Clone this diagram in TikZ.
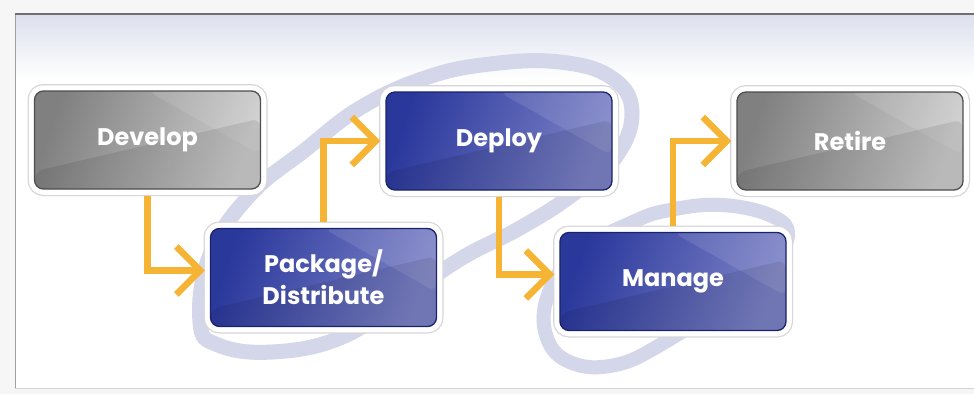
\documentclass[tikz,border=0pt]{standalone}
\usepackage{fontspec}
\setmainfont{Poppins}
\usetikzlibrary{arrows.meta,calc}

\definecolor{pagebg}{RGB}{246,246,246}
\definecolor{topband}{RGB}{221,224,238}
\definecolor{frametop}{RGB}{112,112,112}
\definecolor{frameside}{RGB}{160,160,160}
\definecolor{framebot}{RGB}{212,212,212}
\definecolor{ringcol}{RGB}{212,214,234}
\definecolor{flowcol}{RGB}{246,180,52}
\definecolor{rimline}{RGB}{214,214,218}
\definecolor{bluedark}{RGB}{42,56,156}
\definecolor{bluelight}{RGB}{124,130,198}
\definecolor{blueedge}{RGB}{26,34,104}
\definecolor{greydark}{RGB}{128,128,128}
\definecolor{greylight}{RGB}{204,204,204}
\definecolor{greyedge}{RGB}{78,78,78}

\newcommand\stagefont{\fontsize{24}{32}\selectfont\bfseries}

\tikzset{
  stage/.style={rounded corners=9pt, minimum width=226pt, minimum height=98pt,
    text=white, font=\stagefont, align=center, line width=1.3pt,
    preaction={draw=rimline, line width=14pt},
    preaction={draw=white, line width=11.5pt},
    path picture={
      \fill[white, opacity=.10]
        ($(path picture bounding box.north west)!0.5!(path picture bounding box.north east)$)
        -- (path picture bounding box.north east)
        -- ($(path picture bounding box.south east)!0.35!(path picture bounding box.north east)$)
        -- cycle;
      \fill[black, opacity=.09]
        (path picture bounding box.south west)
        -- ($(path picture bounding box.south west)!0.18!(path picture bounding box.north west)$)
        -- ($(path picture bounding box.south east)!0.72!(path picture bounding box.north east)$)
        -- (path picture bounding box.south east) -- cycle;
    }},
  greystage/.style={stage, draw=greyedge, left color=greydark, right color=greylight, shading angle=70},
  bluestage/.style={stage, draw=blueedge, left color=bluedark, right color=bluelight, shading angle=70},
  flow/.style={draw=flowcol, line width=6.5pt,
    -{Straight Barb[length=24pt,width=48pt]}, shorten <=6pt, shorten >=5pt},
  ring/.style={draw=ringcol, line width=15pt}
}

\begin{document}
\begin{tikzpicture}[x=1pt,y=-1pt]
  \useasboundingbox (0,0) rectangle (974,394);

  % page and frame
  \fill[pagebg] (0,0) rectangle (974,394);
  \fill[white] (15,14) rectangle (974,388);
  \shade[top color=topband, bottom color=white] (15,15) rectangle (974,78);
  \draw[frameside, line width=1pt] (15,14) -- (15,388);
  \draw[framebot, line width=1pt] (15,388) -- (974,388);
  \draw[frametop, line width=1.6pt] (15,14) -- (974,14);

  % lavender swooshes behind the stages
  \draw[ring] plot[smooth cycle, tension=0.7] coordinates {
    (200,322) (210,255) (250,195) (305,150) (360,108) (425,78) (490,64)
    (560,62) (612,78) (632,112) (615,158) (572,195) (520,228) (462,258)
    (400,300) (340,338) (272,352) (218,345)};
  \draw[ring, line width=14pt] plot[smooth cycle, tension=0.7] coordinates {
    (633,222) (578,252) (548,295) (547,338) (572,363) (615,365) (660,345)
    (720,305) (770,262) (788,235) (772,216) (722,205) (670,210)};

  % stages
  \node[greystage] (dev) at (147.5,140) {Develop};
  \node[bluestage] (pkg) at (323.5,277.5) {Package/\\Distribute};
  \node[bluestage] (dep) at (499,141) {Deploy};
  \node[bluestage] (man) at (673,281.5) {Manage};
  \node[greystage] (ret) at (850,141) {Retire};

  % flow between stages
  \draw[flow] (dev.south) |- ([yshift=7pt]pkg.west);
  \draw[flow] (pkg.north) |- (dep.west);
  \draw[flow] (dep.south) |- ([yshift=7pt]man.west);
  \draw[flow] (man.north) |- (ret.west);
\end{tikzpicture}
\end{document}
